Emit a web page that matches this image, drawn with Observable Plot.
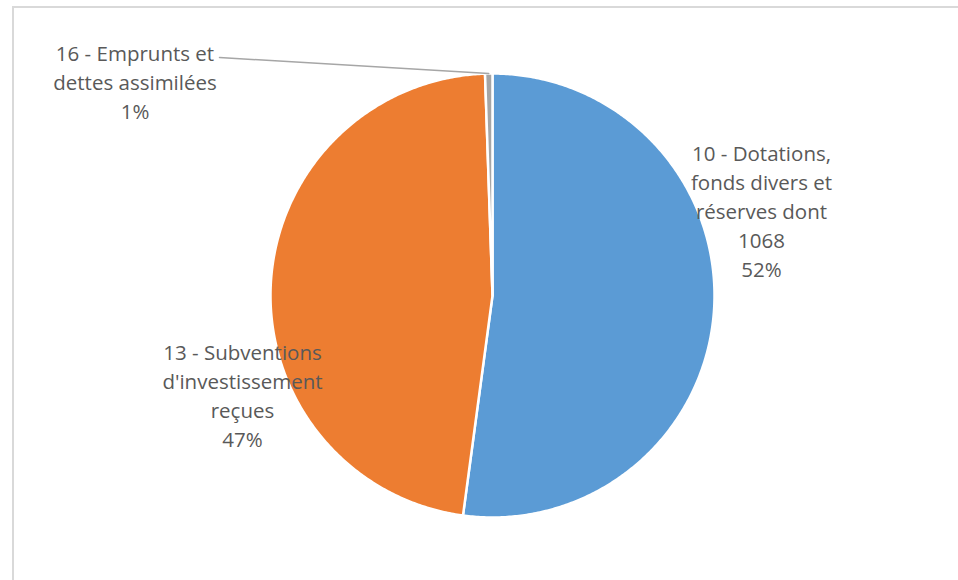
<!DOCTYPE html>
<html>
<head>
<meta charset="utf-8">
<script src="https://cdn.jsdelivr.net/npm/d3@7"></script>
<script src="https://cdn.jsdelivr.net/npm/@observablehq/plot@0.6"></script>
<style>
  html, body { margin: 0; padding: 0; background: #ffffff; }
  #chart { position: relative; width: 958px; height: 580px; overflow: hidden; }
  #frame { position: absolute; left: 12px; top: 6px; width: 1200px; height: 1200px;
           border-left: 2px solid #d9d9d9; border-top: 2px solid #d9d9d9; }
  #chart svg { position: absolute; left: 0; top: 0; }
</style>
</head>
<body>
<div id="chart"><div id="frame"></div></div>
<script>
// Budget accounts (investment resources) and their amounts
const accounts = [
  "10 - Dotations,\nfonds divers et\nréserves dont\n1068",
  "13 - Subventions\nd'investissement\nreçues",
  "16 - Emprunts et\ndettes assimilées"
];
const amounts = [1068, 970, 11];
const sliceColors = ["#5B9BD5", "#ED7D31", "#A5A5A5"];

// Layout of the pie and its labels (pixels; label anchors are top-centre)
const cx = 492, cy = 295, radius = 222;
const labelAnchors = [[761, 139.5], [242, 339], [134.5, 39.5]];
const leaderStart = [219, 57];
const fontSize = 20.5;

const total = d3.sum(amounts);
const rows = accounts.map((name, i) => ({name, amount: amounts[i]}));
const arcs = d3.pie().sort(null).value(d => d.amount).startAngle(0).endAngle(2 * Math.PI)(rows);

const polar = (a, r) => ({x: cx + r * Math.sin(a), y: cy - r * Math.cos(a)});

// Closed outline of every slice: centre, then points along the arc
const outline = arcs.flatMap(s => {
  const n = Math.max(2, Math.ceil((s.endAngle - s.startAngle) / (Math.PI / 360)));
  const pts = [{name: s.data.name, ...polar(0, 0)}];
  for (let k = 0; k <= n; ++k) {
    const a = s.startAngle + (s.endAngle - s.startAngle) * k / n;
    pts.push({name: s.data.name, ...polar(a, radius)});
  }
  return pts;
});

const labels = arcs.map((s, i) => ({
  x: labelAnchors[i][0],
  y: labelAnchors[i][1],
  text: `${s.data.name}\n${Math.round(s.data.amount / total * 100)}%`
}));

// Leader line from the small-slice label to the outer edge of its slice
const small = arcs[2];
const tip = polar((small.startAngle + small.endAngle) / 2, radius);
const leader = [{x: leaderStart[0], y: leaderStart[1]}, tip];

const chart = Plot.plot({
  width: 958,
  height: 580,
  margin: 0,
  x: {type: "identity", axis: null},
  y: {type: "identity", axis: null},
  color: {domain: accounts, range: sliceColors},
  marks: [
    Plot.line(outline, {
      x: "x", y: "y", z: "name", fill: "name",
      stroke: "#ffffff", strokeWidth: 2.5, strokeLinejoin: "round",
      curve: "linear-closed"
    }),
    Plot.line(leader, {x: "x", y: "y", stroke: "#a6a6a6", strokeWidth: 1.5}),
    Plot.text(labels, {
      x: "x", y: "y", text: "text",
      fill: "#595959", fontSize, fontFamily: "'Open Sans', sans-serif",
      lineHeight: 29 / fontSize, lineAnchor: "top", textAnchor: "middle"
    })
  ]
});
chart.style.background = "transparent";
document.getElementById("chart").appendChild(chart);
</script>
</body>
</html>
